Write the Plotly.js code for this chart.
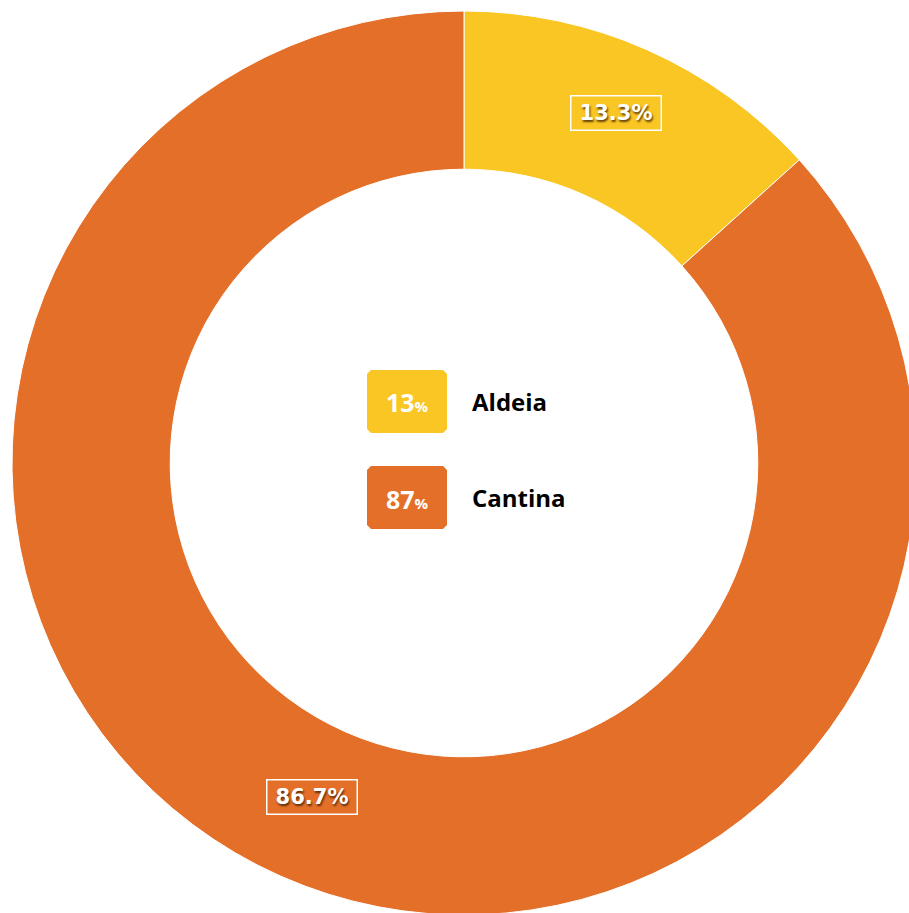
<!DOCTYPE html>
<html>
<head>
<meta charset="utf-8">
<script src="https://cdn.plot.ly/plotly-3.0.1.min.js"></script>
<style>
html,body{margin:0;padding:0;overflow:hidden;background:#fff;width:909px;height:913px;}
#chart{width:928px;height:926px;}
</style>
</head>
<body>
<div id="chart"></div>
<script>
// ---- data ----
const labels = ["Aldeia", "Cantina"];
const values = [13.3, 86.7];
const colors = ["#F9C624", "#E46F29"];

// ---- layout constants ----
const W = 928, H = 926;
const CX = 464, CY = 463, R = 452, HOLE = 0.65;
const px = x => x / W;
const py = y => 1 - y / H;

const total = values.reduce((a, b) => a + b, 0);
const pcts = values.map(v => v / total * 100);

// slice label annotations at slice mid-angles (clockwise from 12 o'clock)
const annotations = [];
const shapes = [];
let cum = 0;
const rLabel = R * (1 + HOLE) / 2 + 1;
values.forEach((v, i) => {
  const mid = (cum + v / 2) / total * 2 * Math.PI;
  cum += v;
  const x = CX + rLabel * Math.sin(mid);
  const y = CY - 8 - rLabel * Math.cos(mid);
  annotations.push({
    xref: 'paper', yref: 'paper', x: px(x), y: py(y),
    xanchor: 'center', yanchor: 'middle', showarrow: false,
    text: pcts[i].toFixed(1) + '%',
    font: {family: 'DejaVu Sans', size: 21, color: '#ffffff', weight: 'bold',
           shadow: '1px 2px 2px rgba(60,30,0,0.8)'},
    bordercolor: '#ffffff', borderwidth: 1.5, borderpad: 2,
    width: 85, height: 29
  });
});

// center legend
const boxL = 367, boxR = 447, boxH = 63, cut = 4;
const legendTop = [370, 466];
labels.forEach((name, i) => {
  const t = legendTop[i], b = t + boxH;
  const pts = [
    [boxL + cut, t], [boxR - cut, t], [boxR, t + cut], [boxR, b - cut],
    [boxR - cut, b], [boxL + cut, b], [boxL, b - cut], [boxL, t + cut]
  ];
  const path = 'M' + pts.map(p => px(p[0]) + ',' + py(p[1])).join(' L') + ' Z';
  shapes.push({type: 'path', xref: 'paper', yref: 'paper', path: path,
               fillcolor: colors[i], line: {width: 0}, layer: 'above'});
  const midY = (t + b) / 2;
  annotations.push({
    xref: 'paper', yref: 'paper', x: px((boxL + boxR) / 2), y: py(midY + 1),
    xanchor: 'center', yanchor: 'middle', showarrow: false,
    text: Math.round(pcts[i]) + "<span style='font-size:15px'>%</span>",
    font: {family: 'Open Sans', size: 25, color: '#ffffff', weight: 'bold'}
  });
  annotations.push({
    xref: 'paper', yref: 'paper', x: px(470), y: py(midY),
    xanchor: 'left', yanchor: 'middle', showarrow: false,
    text: name,
    font: {family: 'Open Sans', size: 24, color: '#000000', weight: 'bold'}
  });
});

const trace = {
  type: 'pie',
  labels: labels,
  values: values,
  hole: HOLE,
  sort: false,
  direction: 'clockwise',
  rotation: 0,
  marker: {colors: colors, line: {color: '#ffffff', width: 1}},
  textinfo: 'none',
  hoverinfo: 'none',
  domain: {x: [0, 1], y: [py(CY + R), py(CY - R)]}
};

Plotly.newPlot('chart', [trace], {
  width: W, height: H,
  margin: {l: 0, r: 0, t: 0, b: 0, pad: 0},
  paper_bgcolor: '#ffffff',
  showlegend: false,
  annotations: annotations,
  shapes: shapes
}, {staticPlot: true, displayModeBar: false});
</script>
</body>
</html>
